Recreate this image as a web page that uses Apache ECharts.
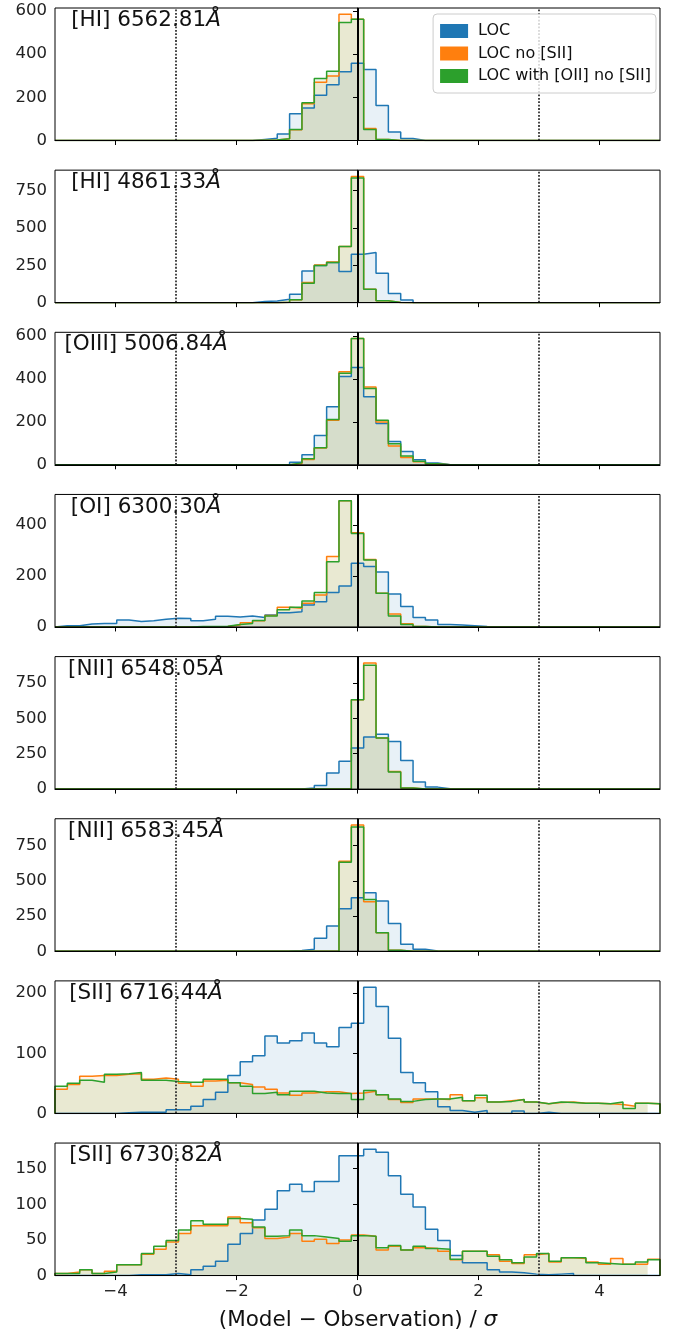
<!DOCTYPE html>
<html>
<head>
<meta charset="UTF-8">
<title>LOC residual histograms</title>
<script src="https://cdn.jsdelivr.net/npm/echarts@6.0.0/dist/echarts.min.js"></script>
<style>
  body { margin: 0; background: #fff; }
  #chart { width: 679px; height: 1334px; }
</style>
</head>
<body>
<div id="chart"></div>
<script>
// histogram bins: 49 equal bins between -5 and 5
const nBins = 49;
const xMin = -5, xMax = 5;
const xTicks = [-4, -2, 0, 2, 4];
const refLines = [-3, 0, 3];
const seriesNames = ['LOC', 'LOC no [SII]', 'LOC with [OII] no [SII]'];
const colors = ['#1f77b4', '#ff7f0e', '#2ca02c'];
const fills = ['rgba(31,119,180,0.1)', 'rgba(255,127,14,0.1)', 'rgba(44,160,44,0.1)'];

const lineLabels = ['[HI] 6562.81', '[HI] 4861.33', '[OIII] 5006.84', '[OI] 6300.30',
                    '[NII] 6548.05', '[NII] 6583.45', '[SII] 6716.44', '[SII] 6730.82'];
const yTicks = [[0, 200, 400, 600], [0, 250, 500, 750], [0, 200, 400, 600], [0, 200, 400],
                [0, 250, 500, 750], [0, 250, 500, 750], [0, 100, 200], [0, 50, 100, 150]];

// counts per bin, starting at bin index `start` (earlier/later bins are empty)
function bins(start, vals) {
    const a = new Array(nBins).fill(0);
    vals.forEach((v, i) => { a[start + i] = v; });
    return a;
}

// [HI] 6562.81
const hi6563Loc   = bins(16, [5, 10, 30, 124, 150, 209, 258, 318, 357, 329, 162, 39, 9]);
const hi6563NoS   = bins(16, [1, 2, 8, 50, 170, 270, 298, 584, 561, 55, 5]);
const hi6563WithO = bins(16, [1, 2, 8, 51, 175, 287, 321, 546, 561, 51, 5]);
// [HI] 4861.33
const hi4861Loc   = bins(16, [7, 11, 22, 56, 212, 248, 268, 208, 324, 335, 196, 62, 18]);
const hi4861NoS   = bins(18, [2, 20, 135, 252, 272, 375, 844, 89, 13, 1]);
const hi4861WithO = bins(18, [2, 20, 129, 248, 268, 375, 833, 89, 13, 1]);
// [OIII] 5006.84
const oiiiLoc   = bins(19, [12, 47, 137, 270, 411, 453, 317, 192, 109, 62, 23, 8]);
const oiiiNoS   = bins(19, [5, 25, 78, 208, 434, 588, 363, 200, 88, 34, 14, 4]);
const oiiiWithO = bins(19, [9, 28, 80, 211, 427, 588, 356, 208, 98, 41, 16, 5]);
// [OI] 6300.30
const oiLoc   = bins(0, [5, 5, 12, 14, 14, 27, 21, 24, 30, 34, 33, 24, 30, 42, 39, 43, 37, 47, 56, 60,
                         86, 99, 135, 161, 250, 237, 216, 129, 80, 37, 27, 10, 8, 5, 2]);
const oiNoS   = bins(11, [1, 1, 2, 8, 16, 24, 45, 77, 73, 93, 125, 276, 495, 370, 265, 132, 51, 13, 2]);
const oiWithO = bins(11, [2, 2, 3, 10, 14, 25, 43, 67, 77, 102, 135, 256, 495, 367, 263, 132, 43, 10, 2]);
// [NII] 6548.05
const nii6548Loc   = bins(20, [7, 26, 113, 196, 290, 368, 387, 337, 203, 50, 14, 2]);
const nii6548NoS   = bins(24, [632, 892, 361, 125, 7]);
const nii6548WithO = bins(24, [632, 875, 361, 120, 7]);
// [NII] 6583.45
const nii6583Loc   = bins(18, [2, 5, 14, 92, 179, 302, 379, 415, 356, 196, 49, 14, 2]);
const nii6583NoS   = bins(22, [1, 638, 895, 351, 132, 7]);
const nii6583WithO = bins(22, [1, 631, 881, 367, 132, 7]);
// [SII] 6716.44
const sii6716Loc   = bins(5, [1, 2, 2, 2, 6, 6, 12, 23, 35, 63, 86, 96, 129, 117, 121, 134, 117, 111, 143,
                              150, 210, 178, 125, 68, 51, 36, 11, 5, 2, 5, 0, 0, 4, 0, 2]);
const sii6716NoS   = [40, 48, 62, 63, 63, 65, 66, 57, 59, 57, 50, 45, 54, 55, 51, 48, 44, 40, 34, 30, 34, 36, 36, 33,
                      34, 37, 31, 23, 18, 24, 24, 23, 31, 21, 26, 19, 21, 23, 19, 16, 18, 19, 17, 17, 16, 15, 12, 17, 16];
const sii6716WithO = [45, 50, 55, 52, 65, 66, 68, 55, 55, 53, 52, 52, 57, 57, 51, 45, 33, 35, 31, 37, 37, 34, 33, 33,
                      23, 38, 31, 24, 20, 23, 24, 24, 27, 21, 30, 19, 20, 23, 19, 16, 19, 18, 17, 17, 16, 19, 8, 17, 16];
// [SII] 6730.82
const sii6731Loc   = bins(6, [1, 1, 1, 3, 1, 8, 13, 20, 44, 59, 78, 93, 119, 128, 118, 132, 132, 168,
                              168, 177, 173, 140, 114, 96, 65, 49, 28, 18, 18, 8, 5, 4, 2, 1, 2, 3]);
const sii6731NoS   = [3, 5, 8, 3, 6, 15, 15, 30, 37, 47, 59, 70, 70, 70, 82, 74, 67, 52, 54, 59, 48, 51, 45, 50,
                      57, 55, 36, 41, 36, 39, 38, 34, 22, 34, 34, 29, 20, 17, 29, 31, 19, 25, 24, 19, 16, 24, 16, 16, 23];
const sii6731WithO = [3, 3, 8, 3, 5, 15, 15, 31, 41, 49, 64, 77, 72, 72, 80, 79, 68, 55, 56, 64, 56, 54, 52, 48,
                      56, 55, 39, 42, 36, 41, 38, 37, 23, 34, 34, 27, 22, 18, 26, 31, 20, 25, 25, 18, 17, 16, 16, 19, 22];

const panels = [
    [hi6563Loc, hi6563NoS, hi6563WithO],
    [hi4861Loc, hi4861NoS, hi4861WithO],
    [oiiiLoc, oiiiNoS, oiiiWithO],
    [oiLoc, oiNoS, oiWithO],
    [nii6548Loc, nii6548NoS, nii6548WithO],
    [nii6583Loc, nii6583NoS, nii6583WithO],
    [sii6716Loc, sii6716NoS, sii6716WithO],
    [sii6731Loc, sii6731NoS, sii6731WithO]
];

// step outline of a histogram: left edges with counts, closed down to zero at both ends
function stepPoints(counts) {
    const w = (xMax - xMin) / nBins;
    const pts = [[xMin, 0]];
    counts.forEach((c, k) => pts.push([xMin + k * w, c]));
    const end = xMin + counts.length * w;
    pts.push([end, counts[counts.length - 1]]);
    pts.push([end, 0]);
    return pts;
}

const chart = echarts.init(document.getElementById('chart'), null, { renderer: 'canvas' });
const font = 'DejaVu Sans';
const tickFont = 16.5;
const gridLeft = 55, gridWidth = 605, gridTop0 = 8, gridStep = 162.15, gridHeight = 132.5;

const grids = [], xAxes = [], yAxes = [], series = [], graphics = [];

panels.forEach((sets, i) => {
    const top = gridTop0 + i * gridStep;
    grids.push({
        left: gridLeft, top: top, width: gridWidth, height: gridHeight,
        show: true, borderColor: '#000', borderWidth: 1, backgroundColor: 'transparent', z: 10
    });
    const last = i === panels.length - 1;
    xAxes.push({
        type: 'value', gridIndex: i, min: xMin, max: xMax, z: 10,
        axisLine: { show: true, lineStyle: { color: '#000', width: 1 } },
        axisTick: { show: true, length: 4.5, customValues: xTicks, lineStyle: { color: '#000' } },
        axisLabel: {
            show: last, customValues: xTicks, margin: 8, color: '#222', fontSize: tickFont, fontFamily: font,
            formatter: v => String(v).replace('-', '\u2212')
        },
        splitLine: { show: false }
    });
    const yMax = Math.max(...sets[0], ...sets[1], ...sets[2]) * 1.05;
    yAxes.push({
        type: 'value', gridIndex: i, min: 0, max: yMax, z: 10,
        axisLine: { show: true, lineStyle: { color: '#000', width: 1 } },
        axisTick: { show: true, length: 4.5, customValues: yTicks[i], lineStyle: { color: '#000' } },
        axisLabel: { customValues: yTicks[i], margin: 8, color: '#222', fontSize: tickFont, fontFamily: font },
        splitLine: { show: false }
    });
    sets.forEach((counts, s) => {
        // translucent fill (stops before the last bin, as in the original figure)
        series.push({
            name: seriesNames[s] + ' fill', type: 'line', step: 'end',
            xAxisIndex: i, yAxisIndex: i,
            data: stepPoints(counts.slice(0, nBins - 1)),
            symbol: 'none', animation: false, silent: true,
            lineStyle: { width: 0 },
            areaStyle: { color: fills[s], opacity: 1 },
            z: 2
        });
    });
    sets.forEach((counts, s) => {
        const ser = {
            name: seriesNames[s], type: 'line', step: 'end',
            xAxisIndex: i, yAxisIndex: i,
            data: stepPoints(counts),
            symbol: 'none', animation: false, silent: true,
            color: colors[s],
            lineStyle: { color: colors[s], width: 1.5 },
            z: 3
        };
        if (s === 2) {
            ser.markLine = {
                symbol: ['none', 'none'], silent: true, animation: false,
                label: { show: false },
                data: refLines.map(v => ({
                    xAxis: v,
                    lineStyle: v === 0
                        ? { color: '#000', width: 2, type: 'solid' }
                        : { color: '#333', width: 1.8, type: [1.8, 1.6] }
                }))
            };
        }
        series.push(ser);
    });
    graphics.push({
        type: 'text', x: 146, y: top + 12.5, z: 20,
        style: {
            text: '{n|' + lineLabels[i] + '}{i|\u00c5}',
            align: 'center', verticalAlign: 'middle',
            rich: {
                n: { fontSize: 21.5, fontFamily: font, fill: '#111' },
                i: { fontSize: 21.5, fontFamily: font, fontStyle: 'italic', fill: '#111' }
            }
        }
    });
});

// x-axis title under the bottom panel
graphics.push({
    type: 'text', x: 358, y: 1320, z: 20,
    style: {
        text: '{n|(Model \u2212 Observation) / }{i|\u03c3}',
        align: 'center', verticalAlign: 'middle',
        rich: {
            n: { fontSize: 21.5, fontFamily: font, fill: '#111' },
            i: { fontSize: 21.5, fontFamily: font, fontStyle: 'italic', fill: '#111' }
        }
    }
});

chart.setOption({
    animation: false,
    backgroundColor: '#fff',
    grid: grids,
    xAxis: xAxes,
    yAxis: yAxes,
    series: series,
    graphic: graphics,
    legend: {
        data: seriesNames.map((n, s) => ({ name: n, itemStyle: { color: colors[s] } })),
        orient: 'vertical', right: 23, top: 14,
        icon: 'rect', itemWidth: 28, itemHeight: 14, itemGap: 6.5,
        padding: [9, 5, 9, 7],
        backgroundColor: 'rgba(255,255,255,0.8)',
        borderColor: '#ccc', borderWidth: 1, borderRadius: 4,
        textStyle: { fontSize: 16, fontFamily: font, color: '#111', padding: [0, 0, 0, 5] },
        selectedMode: false, z: 30
    }
});
</script>
</body>
</html>
